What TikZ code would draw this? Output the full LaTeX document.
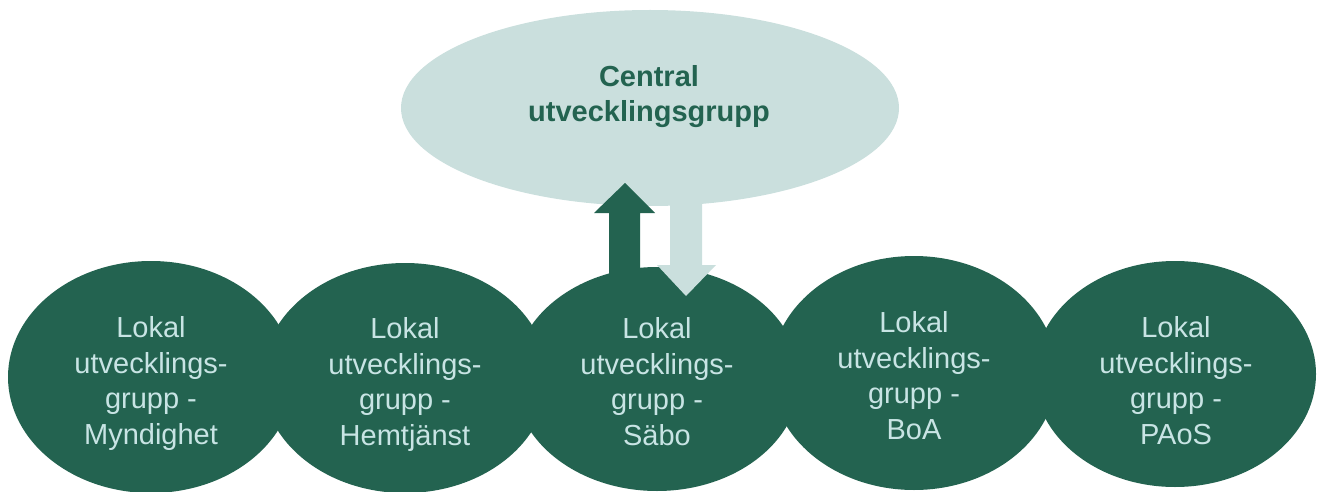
\documentclass[tikz,border=0pt]{standalone}
\usepackage{fontspec}
\setmainfont{Liberation Sans}
\usetikzlibrary{shapes.geometric}
\definecolor{deepgreen}{RGB}{35,99,80}
\definecolor{palegreen}{RGB}{202,223,221}
\definecolor{lighttext}{RGB}{200,228,228}

\begin{document}
\begin{tikzpicture}[x=1pt,y=-1pt,
  localgroup/.style={ellipse, fill=deepgreen, inner sep=0pt,
    minimum width=286pt, minimum height=#1},
  localtext/.style={text=lighttext, font=\fontsize{29}{35.5}\selectfont,
    align=center, inner sep=0pt, anchor=north},
  centralgroup/.style={ellipse, fill=palegreen, inner sep=0pt,
    minimum width=498pt, minimum height=196pt},
  centraltext/.style={text=deepgreen, font=\bfseries\fontsize{29}{35}\selectfont,
    align=center, inner sep=0pt, anchor=north}
]
\useasboundingbox (0,0) rectangle (1317,492);

% local development groups
\node[localgroup=232pt] (g1) at (151,377) {};
\node[localgroup=230pt] (g2) at (405,378) {};
\node[localgroup=224pt] (g3) at (657,379) {};
\node[localgroup=234pt] (g4) at (914,373) {};
\node[localgroup=226pt, minimum width=282pt] (g5) at (1175,374) {};

% central development group
\node[centralgroup] (c) at (650,108) {};
\node[centraltext] (ct) at (649,62) {\strut Central\\utvecklingsgrupp};

% upward arrow from the local group to the central group
\fill[deepgreen] (609,275) -- (640,275) -- (640,213) -- (655,213)
  -- (625,183) -- (594,213) -- (609,213) -- cycle;
% downward arrow from the central group to the local group
\fill[palegreen] (670,195) -- (702,195) -- (702,265) -- (716,265)
  -- (686,296) -- (657,265) -- (670,265) -- cycle;

% labels
\node[localtext] (t1) at (151,312.5) {\strut Lokal\\utvecklings-\\grupp -\\Myndighet};
\node[localtext] (t2) at (405,313.5) {\strut Lokal\\utvecklings-\\grupp -\\Hemtjänst};
\node[localtext] (t3) at (657,313.5) {\strut Lokal\\utvecklings-\\grupp -\\Säbo};
\node[localtext] (t4) at (914,307.5) {\strut Lokal\\utvecklings-\\grupp -\\BoA};
\node[localtext] (t5) at (1176,312.5) {\strut Lokal\\utvecklings-\\grupp -\\PAoS};
\end{tikzpicture}
\end{document}
